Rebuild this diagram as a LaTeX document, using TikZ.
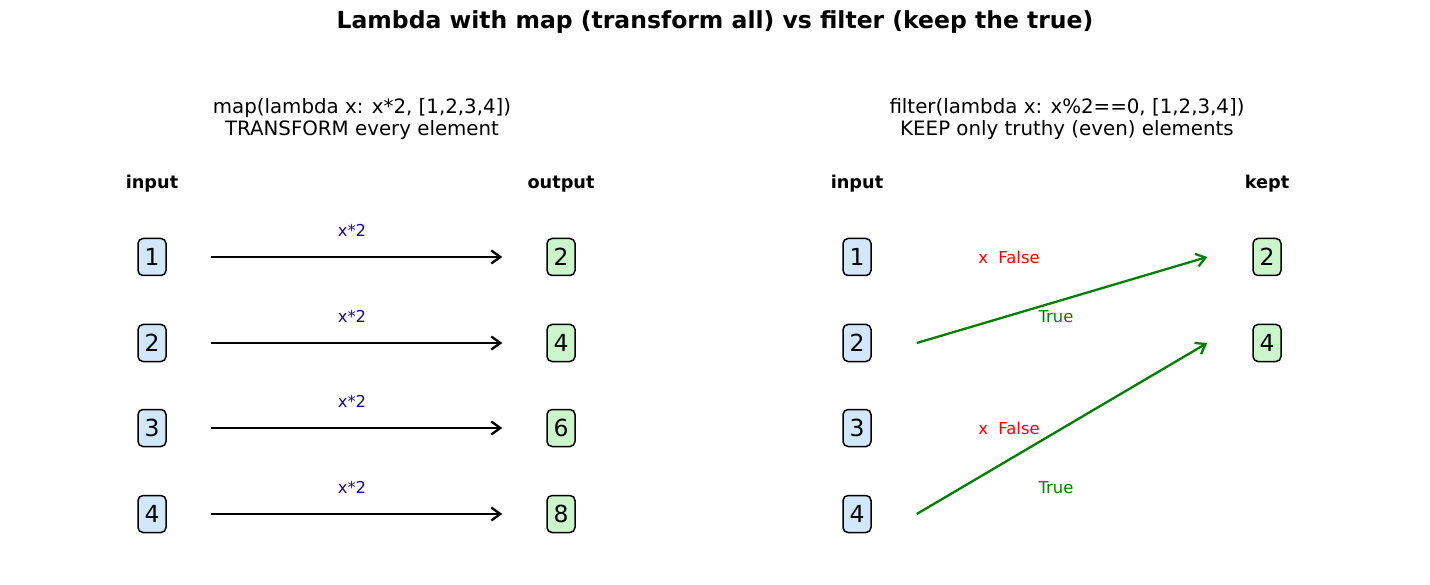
\documentclass[tikz,border=0pt]{standalone}
\usepackage{fontspec}
\setmainfont{DejaVu Sans}
\usetikzlibrary{arrows.meta}
\definecolor{inblue}{HTML}{D2E8FA}
\definecolor{outgreen}{HTML}{CBF5CB}
\definecolor{lblblue}{HTML}{1A0A96}
\definecolor{okgreen}{HTML}{008000}
\definecolor{nored}{HTML}{FF0000}
\begin{document}
\begin{tikzpicture}[x=1pt,y=-1pt,
  font=\fontsize{16.4}{19}\selectfont,
  box/.style={draw=black, line width=1.5pt, rounded corners=5pt, minimum width=28pt, minimum height=37pt, inner sep=0pt, font=\fontsize{23.5}{26}\selectfont},
  inbox/.style={box, fill=inblue},
  outbox/.style={box, fill=outgreen},
  hdr/.style={font=\fontsize{17.7}{21}\selectfont\bfseries},
  subt/.style={align=center, font=\fontsize{19.8}{22.5}\selectfont},
  maparrow/.style={-{Straight Barb[length=9pt,width=13pt]}, line width=2.3pt, black},
  keeparrow/.style={-{Straight Barb[length=9pt,width=13pt]}, line width=2.3pt, okgreen},
  fnlbl/.style={text=lblblue},
  truelbl/.style={text=okgreen},
  falselbl/.style={text=nored},
]
\useasboundingbox (0,0) rectangle (1430,585);
\node[font=\fontsize{23.5}{27}\selectfont\bfseries] (title) at (715,22) {Lambda with map (transform all) vs filter (keep the true)};

% map panel
\node[subt] (msub) at (362,119) {map(lambda x: x*2, [1,2,3,4])\\TRANSFORM every element};
\node[hdr] (min) at (152,184) {input};
\node[hdr] (mout) at (561,184) {output};
\foreach \i/\y/\o in {1/257/2, 2/343/4, 3/428/6, 4/514/8} {
  \node[inbox] (in\i) at (152,\y) {\i};
  \node[outbox] (out\i) at (561,\y) {\o};
  \draw[maparrow, shorten <=44pt, shorten >=44pt] (in\i) -- (out\i);
  \node[fnlbl] (f\i) at (352,\y-27) {x*2};
}

% filter panel
\node[subt] (fsub) at (1067,119) {filter(lambda x: x\%2==0, [1,2,3,4])\\KEEP only truthy (even) elements};
\node[hdr] (fin) at (857,184) {input};
\node[hdr] (fkept) at (1267,184) {kept};
\foreach \i/\y in {1/257, 2/343, 3/428, 4/514} {
  \node[inbox] (fin\i) at (857,\y) {\i};
}
\node[outbox] (kept2) at (1267,257) {2};
\node[outbox] (kept4) at (1267,343) {4};

\coordinate (s2) at ([xshift=45pt]fin2.east);
\coordinate (e2) at ([xshift=-45pt]kept2.west);
\coordinate (s4) at ([xshift=45pt]fin4.east);
\coordinate (e4) at ([xshift=-45pt]kept4.west);
\draw[keeparrow] (s2) -- (e2);
\draw[keeparrow] (s4) -- (e4);

\node[falselbl] (x1) at (1009,257) {x\ \ False};
\node[falselbl] (x3) at (1009,428) {x\ \ False};
\node[truelbl] (t2) at (1056,317) {True};
\node[truelbl] (t4) at (1056,488) {True};
\end{tikzpicture}
\end{document}
